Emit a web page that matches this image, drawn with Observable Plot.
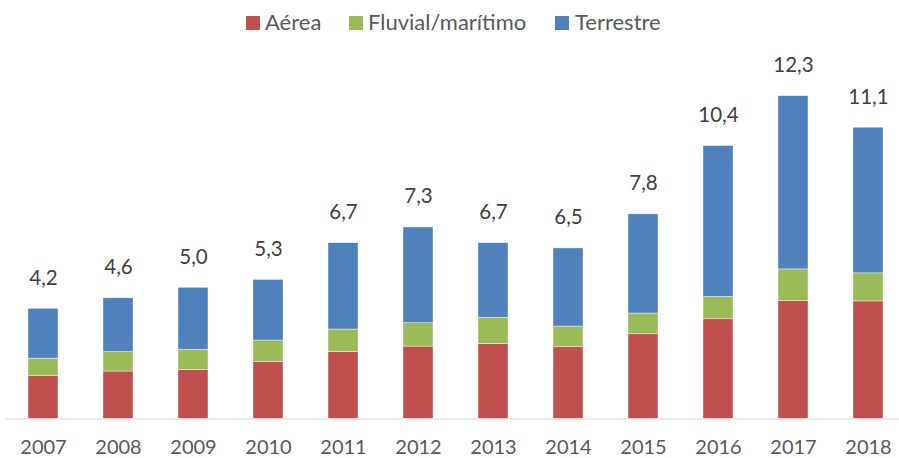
<!DOCTYPE html>
<html>
<head>
<meta charset="utf-8">
<script src="https://cdn.jsdelivr.net/npm/d3@7"></script>
<script src="https://cdn.jsdelivr.net/npm/@observablehq/plot@0.6"></script>
<style>
  body { margin: 0; background: #fff; font-family: Lato, "Open Sans", sans-serif; }
  #wrap { position: relative; width: 899px; height: 458px; overflow: hidden; }
  #legend { position: relative; width: 899px; height: 40px; }
  .sw { position: absolute; top: 16px; width: 14px; height: 14px; }
  .lt { position: absolute; top: 10.5px; line-height: 22px; font-size: 22px; color: #595959; white-space: nowrap; }
  svg { display: block; }
</style>
</head>
<body>
<div id="wrap">
  <div id="legend"></div>
  <div id="chart"></div>
</div>
<script>
const years = [2007, 2008, 2009, 2010, 2011, 2012, 2013, 2014, 2015, 2016, 2017, 2018];
const aerea = [1.63, 1.81, 1.87, 2.18, 2.55, 2.76, 2.86, 2.75, 3.23, 3.80, 4.49, 4.48];
const fluvial = [0.67, 0.74, 0.77, 0.81, 0.86, 0.89, 1.00, 0.77, 0.79, 0.85, 1.21, 1.07];
const terrestre = [1.90, 2.05, 2.36, 2.31, 3.29, 3.65, 2.84, 2.98, 3.78, 5.75, 6.60, 5.55];
const totals = [4.2, 4.6, 5.0, 5.3, 6.7, 7.3, 6.7, 6.5, 7.8, 10.4, 12.3, 11.1];
const seriesNames = ["Aérea", "Fluvial/marítimo", "Terrestre"];
const seriesColors = ["#C0504D", "#9BBB59", "#4F81BD"];

const seriesValues = [aerea, fluvial, terrestre];
const rows = [];
seriesNames.forEach((s, si) => {
  years.forEach((y, i) => rows.push({year: String(y), type: s, value: seriesValues[si][i]}));
});
const totalRows = years.map((y, i) => ({year: String(y), total: totals[i], label: totals[i].toFixed(1).replace(".", ",")}));

// Legend
const legend = document.getElementById("legend");
const swLeft = [246, 349, 555];
const txLeft = [265, 368, 575];
seriesNames.forEach((s, i) => {
  const sw = document.createElement("div");
  sw.className = "sw";
  sw.style.left = swLeft[i] + "px";
  sw.style.background = seriesColors[i];
  legend.appendChild(sw);
  const t = document.createElement("div");
  t.className = "lt";
  t.style.left = txLeft[i] + "px";
  t.textContent = s;
  legend.appendChild(t);
});

const chart = Plot.plot({
  width: 899,
  height: 418,
  marginTop: 0,
  marginBottom: 0,
  marginLeft: 5,
  marginRight: 0,
  style: {fontFamily: "Lato, 'Open Sans', sans-serif", background: "#fff"},
  x: {domain: years.map(String), range: [5, 906.5], paddingInner: 0.6, paddingOuter: 0.3, axis: null},
  y: {domain: [0, 14], range: [378.5, 11.1], axis: null},
  color: {domain: seriesNames, range: seriesColors},
  marks: [
    Plot.barY(rows, {x: "year", y: "value", fill: "type", stroke: "#ffffff", strokeWidth: 0.6, strokeOpacity: 0.7}),
    Plot.ruleY([0], {stroke: "#d9d9d9", strokeWidth: 1.2}),
    Plot.text(totalRows, {x: "year", y: "total", text: "label", dy: -24, lineAnchor: "bottom", fontSize: 20.5, fill: "#404040"}),
    Plot.text(totalRows, {x: "year", y: 0, text: "year", dy: 35, lineAnchor: "bottom", fontSize: 20, fill: "#595959"})
  ]
});
document.getElementById("chart").appendChild(chart);
</script>
</body>
</html>
